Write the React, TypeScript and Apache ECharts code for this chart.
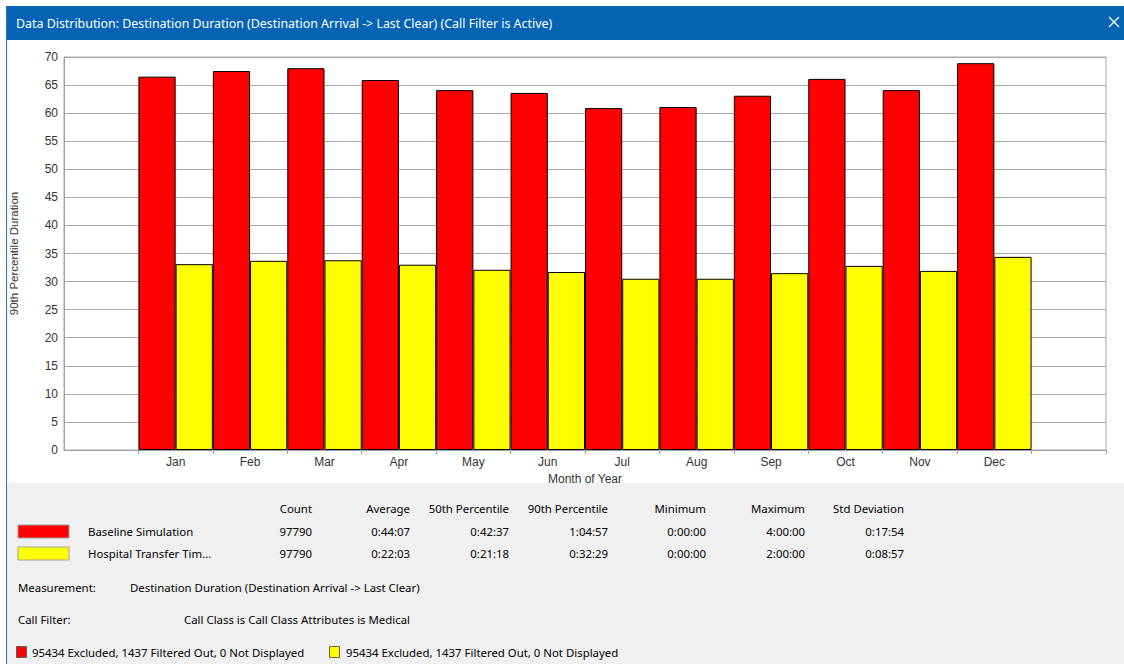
import React, { useEffect, useRef } from "react";
import * as echarts from "echarts";

const months = ["", "Jan", "Feb", "Mar", "Apr", "May", "Jun", "Jul", "Aug", "Sep", "Oct", "Nov", "Dec", ""];
const baseline = ["-", 66.5, 67.5, 68.0, 65.9, 64.1, 63.6, 60.9, 61.1, 63.1, 66.1, 64.1, 68.9, "-"];
const hospital = ["-", 33.1, 33.7, 33.8, 33.0, 32.1, 31.7, 30.5, 30.5, 31.5, 32.8, 31.9, 34.4, "-"];

const headers = ["Count", "Average", "50th Percentile", "90th Percentile", "Minimum", "Maximum", "Std Deviation"];
const headerRight = [312, 410, 509, 608, 706, 805, 904];
const rowBaseline = ["97790", "0:44:07", "0:42:37", "1:04:57", "0:00:00", "4:00:00", "0:17:54"];
const rowHospital = ["97790", "0:22:03", "0:21:18", "0:32:29", "0:00:00", "2:00:00", "0:08:57"];

const seriesNames = ["Baseline Simulation", "Hospital Transfer Tim…"];
const colors = ["#FF0000", "#FFFF00"];

const titleText = "Data Distribution: Destination Duration (Destination Arrival -> Last Clear) (Call Filter is Active)";
const measurementText = "Destination Duration (Destination Arrival -> Last Clear)";
const filterText = "Call Class is Call Class Attributes is Medical";
const footText = "95434 Excluded, 1437 Filtered Out, 0 Not Displayed";

const uiFont = "Noto Sans";

export default function App() {
  const ref = useRef<HTMLDivElement>(null);
  useEffect(() => {
    if (!ref.current) return;
    const chart = echarts.init(ref.current, null, { renderer: "svg" });
    const txt = (x: number, y: number, text: string, align = "left", extra: any = {}) => ({
      type: "text",
      x,
      y,
      style: {
        text,
        fill: "#000",
        font: `11.4px "${uiFont}"`,
        align,
        verticalAlign: "middle",
        ...extra,
      },
      z: 10,
    });
    const graphics: any[] = [
      { type: "rect", shape: { x: 6, y: 6, width: 1118, height: 34 }, style: { fill: "#0563B3" }, z: 5 },
      { type: "rect", shape: { x: 7, y: 483, width: 1117, height: 181 }, style: { fill: "#F0F0F0" }, z: 1 },
      { type: "rect", shape: { x: 6, y: 6, width: 1, height: 658 }, style: { fill: "#1C78C8" }, z: 6 },
      txt(16, 23, titleText, "left", { fill: "#FFFFFF", font: `12.4px "${uiFont}"` }),
      { type: "line", shape: { x1: 1109, y1: 17, x2: 1119, y2: 27 }, style: { stroke: "#FFFFFF", lineWidth: 1.3 }, z: 10 },
      { type: "line", shape: { x1: 1119, y1: 17, x2: 1109, y2: 27 }, style: { stroke: "#FFFFFF", lineWidth: 1.3 }, z: 10 },
    ];
    headers.forEach((h, i) => graphics.push(txt(headerRight[i], 508, h, "right")));
    rowBaseline.forEach((v, i) => graphics.push(txt(headerRight[i], 531, v, "right")));
    rowHospital.forEach((v, i) => graphics.push(txt(headerRight[i], 553, v, "right")));
    [531, 553].forEach((y, i) => {
      graphics.push({
        type: "rect",
        shape: { x: 18, y: y - 6, width: 51, height: 13 },
        style: { fill: colors[i], stroke: "#A0A0A0", lineWidth: 1 },
        z: 10,
      });
      graphics.push(txt(88, y, seriesNames[i]));
    });
    graphics.push(txt(18, 587, "Measurement:"));
    graphics.push(txt(130, 587, measurementText));
    graphics.push(txt(18, 619, "Call Filter:"));
    graphics.push(txt(184, 619, filterText));
    [[16, 32], [329, 346]].forEach(([sx, tx], i) => {
      graphics.push({
        type: "rect",
        shape: { x: sx + 0.5, y: 646.5, width: 10, height: 11 },
        style: { fill: colors[i], stroke: "#606060", lineWidth: 1 },
        z: 10,
      });
      graphics.push(txt(tx, 652, footText));
    });

    const axisFont = { fontFamily: "Liberation Sans", fontSize: 12, color: "#333" };

    chart.setOption({
      animation: false,
      backgroundColor: "#FFFFFF",
      grid: {
        left: 62,
        right: 18,
        top: 57,
        bottom: 214,
        show: true,
        borderColor: "#A8A8A8",
        borderWidth: 1,
        backgroundColor: "#FFFFFF",
      },
      xAxis: {
        type: "category",
        data: months,
        boundaryGap: true,
        name: "Month of Year",
        nameLocation: "middle",
        nameGap: 19,
        nameTextStyle: { ...axisFont, fontSize: 12 },
        axisLine: { lineStyle: { color: "#A0A0A0" } },
        axisTick: {
          show: true,
          length: 4,
          interval: (i: number) => i >= 1 && i <= 13,
          lineStyle: { color: "#A0A0A0" },
        },
        axisLabel: { ...axisFont, interval: 0, margin: 6 },
        splitLine: { show: false },
      },
      yAxis: {
        type: "value",
        min: 0,
        max: 70,
        interval: 5,
        name: "90th Percentile Duration",
        nameLocation: "middle",
        nameGap: 44,
        nameTextStyle: { ...axisFont, fontSize: 11.5 },
        axisLine: { show: true, lineStyle: { color: "#A0A0A0" } },
        axisTick: { show: false },
        axisLabel: { ...axisFont, fontSize: 12, margin: 6 },
        splitLine: { show: true, lineStyle: { color: "#A8A8A8", width: 1 } },
      },
      series: [
        {
          name: seriesNames[0],
          type: "bar",
          data: baseline,
          barGap: "0%",
          barCategoryGap: "0%",
          itemStyle: { color: colors[0], borderColor: "#000000", borderWidth: 1 },
        },
        {
          name: seriesNames[1],
          type: "bar",
          data: hospital,
          barGap: "0%",
          barCategoryGap: "0%",
          itemStyle: { color: colors[1], borderColor: "#000000", borderWidth: 1 },
        },
      ],
      graphic: graphics,
    });
    return () => chart.dispose();
  }, []);
  return (
    <div
      ref={ref}
      style={{ position: "fixed", left: 0, top: 0, width: 1124, height: 664 }}
    />
  );
}
